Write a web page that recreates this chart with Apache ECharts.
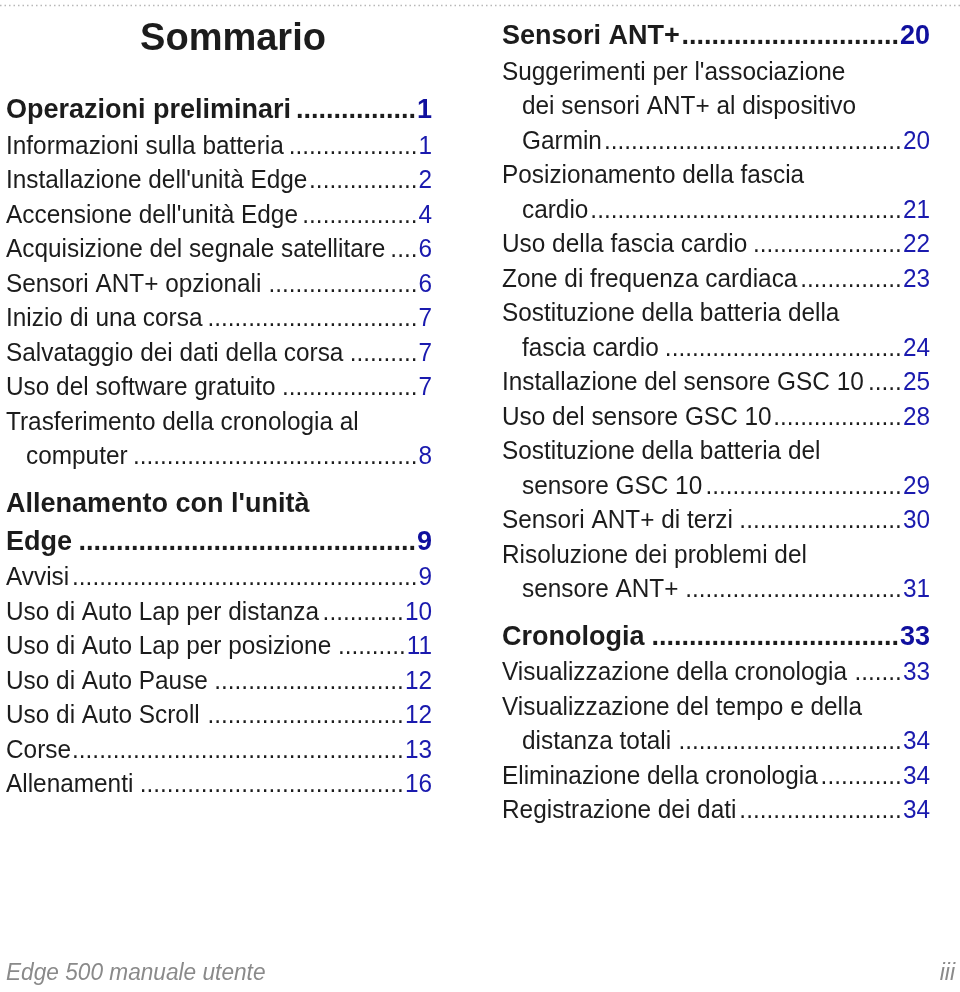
<!DOCTYPE html>
<html>
<head>
<meta charset="utf-8">
<script src="https://cdn.jsdelivr.net/npm/echarts@6/dist/echarts.min.js"></script>
<style>
html,body{margin:0;padding:0;background:#fff;}
#chart{width:960px;height:992px;}
</style>
</head>
<body>
<div id="chart"></div>
<script>
// ---- Data ----
const pageTitle = "Sommario";
const leftEntries = [
  "Operazioni preliminari",
  "Informazioni sulla batteria",
  "Installazione dell'unità Edge",
  "Accensione dell'unità Edge",
  "Acquisizione del segnale satellitare",
  "Sensori ANT+ opzionali",
  "Inizio di una corsa",
  "Salvataggio dei dati della corsa",
  "Uso del software gratuito",
  "Trasferimento della cronologia al\ncomputer",
  "Allenamento con l'unità\nEdge",
  "Avvisi",
  "Uso di Auto Lap per distanza",
  "Uso di Auto Lap per posizione",
  "Uso di Auto Pause",
  "Uso di Auto Scroll",
  "Corse",
  "Allenamenti"
];
const leftPages = [1, 1, 2, 4, 6, 6, 7, 7, 7, 8, 9, 9, 10, 11, 12, 12, 13, 16];
const leftLevels = [1, 2, 2, 2, 2, 2, 2, 2, 2, 2, 1, 2, 2, 2, 2, 2, 2, 2];

const rightEntries = [
  "Sensori ANT+",
  "Suggerimenti per l'associazione\ndei sensori ANT+ al dispositivo\nGarmin",
  "Posizionamento della fascia\ncardio",
  "Uso della fascia cardio",
  "Zone di frequenza cardiaca",
  "Sostituzione della batteria della\nfascia cardio",
  "Installazione del sensore GSC 10",
  "Uso del sensore GSC 10",
  "Sostituzione della batteria del\nsensore GSC 10",
  "Sensori ANT+ di terzi",
  "Risoluzione dei problemi del\nsensore ANT+",
  "Cronologia",
  "Visualizzazione della cronologia",
  "Visualizzazione del tempo e della\ndistanza totali",
  "Eliminazione della cronologia",
  "Registrazione dei dati"
];
const rightPages = [20, 20, 21, 22, 23, 24, 25, 28, 29, 30, 31, 33, 33, 34, 34, 34];
const rightLevels = [1, 2, 2, 2, 2, 2, 2, 2, 2, 2, 2, 1, 2, 2, 2, 2];

const footerLeft = "Edge 500 manuale utente";
const footerRight = "iii";

// ---- Styles ----
const FAMILY = '"Liberation Sans", Arial, Helvetica, sans-serif';
const FONT_ITEM = '25px ' + FAMILY;
const FONT_HEAD = 'bold 27px ' + FAMILY;
const SCALE_ITEM = 0.975;
const SCALE_HEAD = 1;
const TEXT_COLOR = '#1c1c1c';
const NUM_COLOR = '#1a1aae';
const NUM_HEAD_COLOR = '#10109e';

const cv = document.createElement('canvas').getContext('2d');
function measure(text, font) { cv.font = font; return cv.measureText(text).width; }

const elements = [];

// top dotted rule
elements.push({
  type: 'line', silent: true,
  shape: { x1: 0, y1: 5.5, x2: 960, y2: 5.5 },
  style: { stroke: '#b8b8b8', lineWidth: 1.5, lineDash: [1.5, 3] }
});

elements.push({
  type: 'text', x: 233, y: 40,
  style: { text: pageTitle, font: 'bold 38px ' + FAMILY, fill: '#1c1c1c', align: 'center', verticalAlign: 'middle' }
});

function layoutColumn(entries, pages, levels, x0, xr, yStart) {
  let y = yStart;
  let prevLevel = null;
  entries.forEach(function (entry, i) {
    const lvl = levels[i];
    const head = lvl === 1;
    if (prevLevel !== null) {
      if (head) y += 47;
      else if (prevLevel === 1) y += 36;
      else y += 34.5;
    }
    const font = head ? FONT_HEAD : FONT_ITEM;
    const sc = head ? SCALE_HEAD : SCALE_ITEM;
    const lines = entry.split('\n');
    lines.forEach(function (ln, j) {
      if (j > 0) y += head ? 38 : 34.5;
      const lx = (j > 0 && !head) ? x0 + 20 : x0;
      elements.push({
        type: 'text', x: lx, y: y, scaleX: sc,
        style: { text: ln, font: font, fill: TEXT_COLOR, align: 'left', verticalAlign: 'middle' }
      });
      if (j === lines.length - 1) {
        const num = String(pages[i]);
        elements.push({
          type: 'text', x: xr, y: y, scaleX: sc,
          style: { text: num, font: font, fill: head ? NUM_HEAD_COLOR : NUM_COLOR, align: 'right', verticalAlign: 'middle' }
        });
        const textEnd = lx + measure(ln, font) * sc;
        const numLeft = xr - measure(num, font) * sc;
        const dotW = measure('.', font) * sc;
        const avail = numLeft - 1 - (textEnd + 1);
        const n = Math.max(0, Math.floor(avail / dotW));
        elements.push({
          type: 'text', x: numLeft - 1, y: y, scaleX: sc,
          style: { text: '.'.repeat(n), font: font, fill: TEXT_COLOR, align: 'right', verticalAlign: 'middle' }
        });
      }
    });
    prevLevel = lvl;
  });
}

layoutColumn(leftEntries, leftPages, leftLevels, 6, 432, 111);
layoutColumn(rightEntries, rightPages, rightLevels, 502, 930, 37);

elements.push({
  type: 'text', x: 6, y: 974, scaleX: 0.985,
  style: { text: footerLeft, font: 'italic 23px ' + FAMILY, fill: '#8a8a8a', align: 'left', verticalAlign: 'middle' }
});
elements.push({
  type: 'text', x: 955, y: 974,
  style: { text: footerRight, font: 'italic 23px ' + FAMILY, fill: '#8a8a8a', align: 'right', verticalAlign: 'middle' }
});

const chart = echarts.init(document.getElementById('chart'), null, { renderer: 'canvas' });
chart.setOption({ animation: false, backgroundColor: '#ffffff', graphic: { elements: elements } });
</script>
</body>
</html>
